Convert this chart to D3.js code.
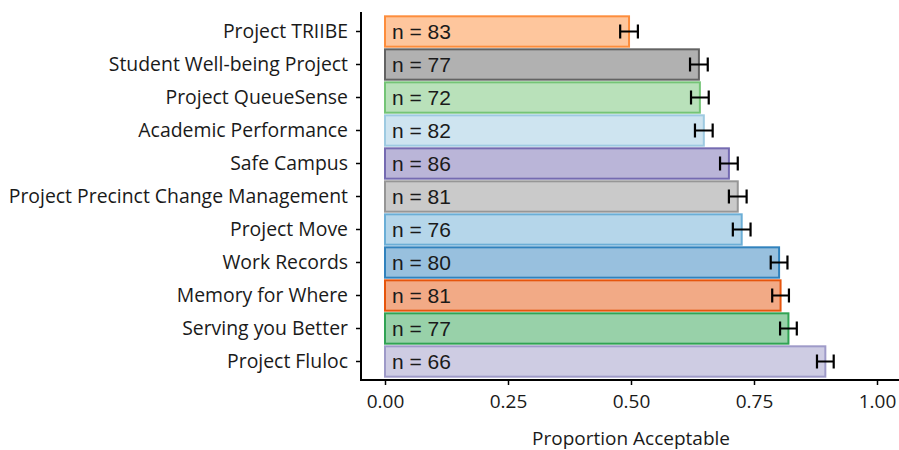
<!DOCTYPE html>
<html lang="en">
<head>
    <meta charset="UTF-8">
    <title>Proportion Acceptable</title>
    <script src="https://d3js.org/d3.v7.js"></script>
    <style>
        body { margin: 0; background: #fff; }
    </style>
</head>
<body>
    <div class="canvas"></div>
    <script>
        // data
        let projects = ["Project TRIIBE", "Student Well-being Project", "Project QueueSense", "Academic Performance",
            "Safe Campus", "Project Precinct Change Management", "Project Move", "Work Records",
            "Memory for Where", "Serving you Better", "Project Fluloc"];
        let proportions = [0.496, 0.638, 0.640, 0.648, 0.699, 0.717, 0.725, 0.801, 0.804, 0.820, 0.895];
        let errors = [0.018, 0.018, 0.018, 0.018, 0.018, 0.018, 0.018, 0.017, 0.017, 0.017, 0.017];
        let counts = [83, 77, 72, 82, 86, 81, 76, 80, 81, 77, 66];
        let colors = ["#fd8d3c", "#636363", "#74c476", "#9ecae1", "#756bb1", "#969696",
            "#6baed6", "#3182bd", "#e6550d", "#31a354", "#9e9ac8"];
        let xTicks = [0, 0.25, 0.5, 0.75, 1];

        let data = projects.map((p, i) => ({ name: p, value: proportions[i], err: errors[i], n: counts[i], color: colors[i] }));

        let width = 899, height = 450;
        let svg = d3.select(".canvas").append("svg")
            .attr("width", width)
            .attr("height", height);

        // scales
        let x_scale = d3.scaleLinear().domain([0, 1]).range([385, 877]);
        let y_scale = d3.scaleBand().domain(projects).range([15, 378]).paddingInner(0.08).paddingOuter(0.04);

        // bars
        svg.append("g").selectAll("rect").data(data).enter().append("rect")
            .attr("x", x_scale(0))
            .attr("y", d => y_scale(d.name))
            .attr("width", d => x_scale(d.value) - x_scale(0))
            .attr("height", y_scale.bandwidth())
            .attr("fill", d => d.color)
            .attr("fill-opacity", 0.5)
            .attr("stroke", d => d.color)
            .attr("stroke-width", 2);

        // n labels
        svg.append("g").selectAll("text").data(data).enter().append("text")
            .attr("x", x_scale(0) + 7)
            .attr("y", d => y_scale(d.name) + y_scale.bandwidth() / 2)
            .attr("dy", "0.36em")
            .attr("font-family", "Liberation Sans, Arial, sans-serif")
            .attr("font-size", "21px")
            .attr("fill", "#1a1a1a")
            .text(d => "n = " + d.n);

        // error bars
        let eb = svg.append("g").attr("stroke", "#000").attr("stroke-width", 2.2).attr("fill", "none");
        data.forEach(d => {
            let cy = y_scale(d.name) + y_scale.bandwidth() / 2;
            let x0 = x_scale(d.value - d.err), x1 = x_scale(d.value + d.err);
            eb.append("path").attr("d", `M${x0},${cy - 7}V${cy + 7}M${x1},${cy - 7}V${cy + 7}M${x0},${cy}H${x1}`);
        });

        // axes
        let axisFont = "'Open Sans', 'Noto Sans', sans-serif";
        let yAxis = svg.append("g")
            .attr("transform", "translate(361,0)")
            .call(d3.axisLeft(y_scale).tickSize(5).tickPadding(8));
        yAxis.select(".domain").attr("d", "M0,12V381").attr("stroke-width", 2);
        yAxis.selectAll(".tick line").attr("stroke-width", 1.5);
        yAxis.selectAll("text").attr("font-family", axisFont).attr("font-size", "19.4px").attr("fill", "#1a1a1a");

        let xAxis = svg.append("g")
            .attr("transform", "translate(0,380)")
            .call(d3.axisBottom(x_scale).tickValues(xTicks).tickFormat(d3.format(".2f")).tickSize(5).tickPadding(10));
        xAxis.select(".domain").attr("d", "M360,0H899").attr("stroke-width", 2);
        xAxis.selectAll(".tick line").attr("stroke-width", 1.5);
        xAxis.selectAll("text").attr("font-family", axisFont).attr("font-size", "19px").attr("fill", "#1a1a1a");

        svg.append("text")
            .attr("x", x_scale(0.5))
            .attr("y", 445)
            .attr("text-anchor", "middle")
            .attr("font-family", axisFont)
            .attr("font-size", "19px")
            .attr("fill", "#1a1a1a")
            .text("Proportion Acceptable");
    </script>
</body>
</html>
